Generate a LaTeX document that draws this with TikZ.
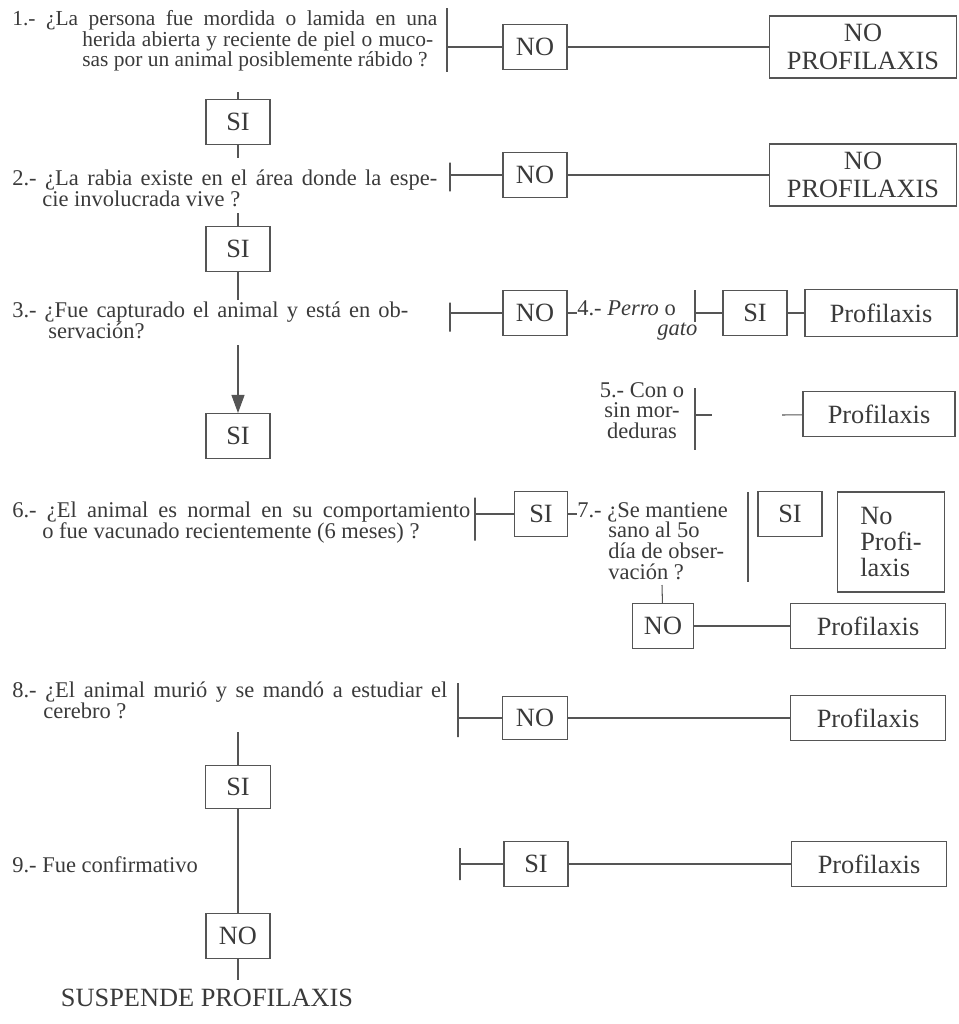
\documentclass[tikz,border=0pt]{standalone}
\usepackage{fontspec}
\setmainfont{Liberation Serif}
\usetikzlibrary{arrows.meta,calc}
\definecolor{inkcol}{HTML}{3A3A3A}
\definecolor{linecol}{HTML}{555555}

\begin{document}
\begin{tikzpicture}[
  x=0.02cm, y=-0.02cm,
  q/.style={
    font=\fontsize{12.8}{11.8}\selectfont, text=inkcol,
    align=left, anchor=north west, inner sep=0pt,
  },
  box/.style={
    draw=linecol, line width=0.6pt, text=inkcol, align=center,
    font=\fontsize{15}{15.5}\selectfont, inner sep=0pt,
    minimum width=1.28cm, minimum height=0.9cm,
  },
  pbox/.style={box, minimum width=3.1cm},
  bigbox/.style={box, minimum width=3.74cm, minimum height=1.24cm},
  bar/.style={draw=linecol, line width=0.6pt, inner sep=0pt,
    minimum width=0pt, minimum height=#1},
  ln/.style={draw=linecol, line width=0.6pt},
  arrow/.style={ln, -{Triangle[length=3.6mm, width=2.6mm]}},
]
\useasboundingbox (0,0) rectangle (958,1024);

% ============================================================
% QUESTION 1
% ============================================================
\node[q, font=\fontsize{12.2}{11.8}\selectfont] (q1) at (12,10)
  {\makebox[8.5cm][s]{1.- ¿La persona fue mordida o lamida en una}\\
   \hspace*{1.4cm}\makebox[7.02cm][s]{herida abierta y reciente de piel o muco-}\\
   \hspace*{1.4cm}sas por un animal posiblemente rábido ?};
\node[bar=1.28cm] (b1) at (447,40) {};
\node[box] (no1) at (535,47) {NO};
\node[bigbox] (np1) at (863,47) {NO\\PROFILAXIS};
\draw[ln] (b1 |- no1) -- (no1);
\draw[ln] (no1) -- (np1);

\node[box] (si1) at (238,122) {SI};
\coordinate (t1) at (238,92);
\draw[ln] (t1) -- (si1);

% ============================================================
% QUESTION 2
% ============================================================
\coordinate (t2) at (238,158);
\draw[ln] (si1) -- (t2);
\node[q] (q2) at (12,170)
  {\makebox[8.5cm][s]{2.- ¿La rabia existe en el área donde la espe-}\\
   \hspace*{0.6cm}cie involucrada vive ?};
\node[bar=0.58cm] (b2) at (450,177) {};
\node[box] (no2) at (535,175) {NO};
\node[bigbox] (np2) at (863,175) {NO\\PROFILAXIS};
\draw[ln] (b2 |- no2) -- (no2);
\draw[ln] (no2) -- (np2);

\node[box] (si2) at (238,249) {SI};
\coordinate (t3) at (238,213);
\draw[ln] (t3) -- (si2);

% ============================================================
% QUESTION 3, 4, 5
% ============================================================
\coordinate (t4) at (238,300);
\draw[ln] (si2) -- (t4);
\node[q] (q3) at (12,302)
  {\makebox[7.92cm][s]{3.- ¿Fue capturado el animal y está en ob-}\\
   \hspace*{0.72cm}servación?};
\node[bar=0.58cm] (b3) at (450,317) {};
\node[box] (no3) at (535,313) {NO};
\draw[ln] (b3 |- no3) -- (no3);

% --- Perro o gato ---
\node[q] (q4) at (577,300)
  {4.- \textit{Perro} o\\
   \hspace*{1.6cm}\textit{gato}};
\draw[ln] (no3) -- (no3 -| q4.west);
\node[bar=0.64cm] (b4) at (695,306) {};
\node[box] (si4) at (755,313) {SI};
\node[pbox, minimum width=3.04cm, minimum height=0.94cm] (pf4) at (881,313) {Profilaxis};
\draw[ln] (b4 |- si4) -- (si4);
\draw[ln] (si4) -- (pf4);

% --- Con o sin mordeduras ---
\node[q, anchor=north, align=center] (q5) at (642,382)
  {5.- Con o\\sin mor-\\deduras};
\node[bar=1.24cm] (b5) at (695,419) {};
\coordinate (s5a) at (712,415);
\coordinate (s5b) at (782,415);
\node[pbox, minimum width=3.04cm] (pf5) at (879,414) {Profilaxis};
\draw[ln] (b5 |- s5a) -- (s5a);
\draw[ln] (s5b) -- (pf5);

% arrow down to SI
\node[box] (si3) at (238,436) {SI};
\coordinate (t5) at (238,345);
\draw[arrow] (t5) -- (si3);

% ============================================================
% QUESTION 6, 7
% ============================================================
\node[q] (q6) at (12,502)
  {\makebox[9.16cm][s]{6.- ¿El animal es normal en su comportamiento}\\
   \hspace*{0.6cm}o fue vacunado recientemente (6 meses) ?};
\node[bar=0.86cm] (b6) at (475,519) {};
\node[box, minimum width=1.06cm] (si6) at (541,514) {SI};
\draw[ln] (b6 |- si6) -- (si6);

\node[q] (q7) at (577,502)
  {7.- ¿Se mantiene\\
   \hspace*{0.62cm}sano al 5o\\
   \hspace*{0.62cm}día de obser-\\
   \hspace*{0.62cm}vación ?};
\draw[ln] (si6) -- (si6 -| q7.west);
\node[bar=1.8cm] (b7) at (748,537) {};
\node[box] (si7) at (790,514) {SI};
\node[box, align=left, minimum width=2.14cm, minimum height=2cm,
      font=\fontsize{15}{14.6}\selectfont] (npf7) at (891,542) {No\\Profi-\\laxis};

\node[box, minimum width=1.22cm] (no7) at (663,626) {NO};
\node[pbox] (pf7) at (868,626) {Profilaxis};
\coordinate (t7) at (662,585);
\draw[ln] (t7) -- (no7);
\draw[ln] (no7) -- (pf7);

% ============================================================
% QUESTION 8, 9
% ============================================================
\node[q] (q8) at (12,682)
  {\makebox[8.7cm][s]{8.- ¿El animal murió y se mandó a estudiar el}\\
   \hspace*{0.62cm}cerebro ?};
\node[bar=1.08cm] (b8) at (458,710) {};
\node[box, minimum width=1.3cm, minimum height=0.86cm] (no8) at (535,718) {NO};
\node[pbox] (pf8) at (868,718) {Profilaxis};
\draw[ln] (b8 |- no8) -- (no8);
\draw[ln] (no8) -- (pf8);

\node[box, minimum width=1.3cm, minimum height=0.86cm] (si8) at (238,787) {SI};
\coordinate (t8) at (238,732);
\draw[ln] (t8) -- (si8);

\node[q] (q9) at (12,856) {9.- Fue confirmativo};
\node[bar=0.64cm] (b9) at (460,864) {};
\node[box] (si9) at (536,864) {SI};
\node[pbox] (pf9) at (869,864) {Profilaxis};
\draw[ln] (b9 |- si9) -- (si9);
\draw[ln] (si9) -- (pf9);

\node[box] (no9) at (238,936) {NO};
\draw[ln] (si8) -- (no9);
\coordinate (t9) at (238,980);
\draw[ln] (no9) -- (t9);
\node[text=inkcol, font=\fontsize{15}{15.5}\selectfont, inner sep=0pt]
  (fin) at (207,998) {SUSPENDE PROFILAXIS};

\end{tikzpicture}
\end{document}
